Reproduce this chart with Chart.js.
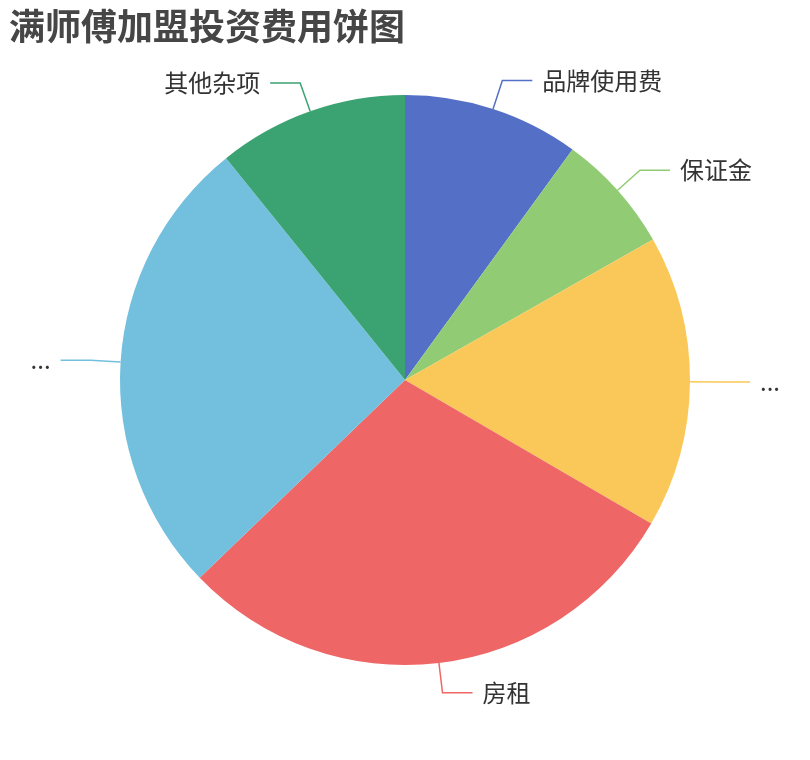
<!DOCTYPE html>
<html>
<head>
<meta charset="utf-8">
<script src="https://cdn.jsdelivr.net/npm/chart.js@4"></script>
<style>
html,body{margin:0;padding:0;background:#fff;}
#wrap{width:810px;height:760px;position:relative;}
</style>
</head>
<body>
<div id="wrap"><canvas id="c" width="810" height="760"></canvas></div>
<script>
const titleText = '满师傅加盟投资费用饼图';
const categories = ['品牌使用费', '保证金', '...', '房租', '...', '其他杂项'];
const shares = [10.0, 6.8, 16.6, 29.4, 26.4, 10.8];
const colors = ['#5470c6', '#91cc75', '#fac858', '#ee6666', '#73c0de', '#3ba272'];

const FONT = '"Noto Sans CJK SC", "Noto Sans", sans-serif';

const titlePlugin = {
  id: 'titleText',
  afterDraw(chart) {
    const ctx = chart.ctx;
    ctx.save();
    ctx.font = 'bold 36px ' + FONT;
    ctx.fillStyle = '#464646';
    ctx.textAlign = 'left';
    ctx.textBaseline = 'middle';
    ctx.fillText(titleText, 9, 26);
    ctx.restore();
  }
};

const leaderPlugin = {
  id: 'leaders',
  afterDatasetsDraw(chart) {
    const ctx = chart.ctx;
    const meta = chart.getDatasetMeta(0);
    ctx.save();
    meta.data.forEach((arc, i) => {
      const p = arc.getProps(['x', 'y', 'startAngle', 'endAngle', 'outerRadius'], true);
      const mid = (p.startAngle + p.endAngle) / 2;
      const cos = Math.cos(mid), sin = Math.sin(mid);
      const x0 = p.x + cos * p.outerRadius;
      const y0 = p.y + sin * p.outerRadius;
      const x1 = p.x + cos * (p.outerRadius + 30);
      const y1 = p.y + sin * (p.outerRadius + 30);
      const right = cos >= 0;
      const x2 = x1 + (right ? 30 : -30);
      ctx.strokeStyle = colors[i];
      ctx.lineWidth = 1.5;
      ctx.beginPath();
      ctx.moveTo(x0, y0);
      ctx.lineTo(x1, y1);
      ctx.lineTo(x2, y1);
      ctx.stroke();
      ctx.font = '24px ' + FONT;
      ctx.fillStyle = '#333';
      ctx.textBaseline = 'middle';
      ctx.textAlign = right ? 'left' : 'right';
      ctx.fillText(categories[i], x2 + (right ? 10 : -10), y1);
    });
    ctx.restore();
  }
};

new Chart(document.getElementById('c'), {
  type: 'pie',
  data: {
    labels: categories,
    datasets: [{
      data: shares,
      backgroundColor: colors,
      borderWidth: 0
    }]
  },
  options: {
    responsive: false,
    animation: false,
    layout: { padding: { top: 95, bottom: 95, left: 120, right: 120 } },
    plugins: { legend: { display: false }, tooltip: { enabled: false }, title: { display: false } }
  },
  plugins: [titlePlugin, leaderPlugin]
});
</script>
</body>
</html>
